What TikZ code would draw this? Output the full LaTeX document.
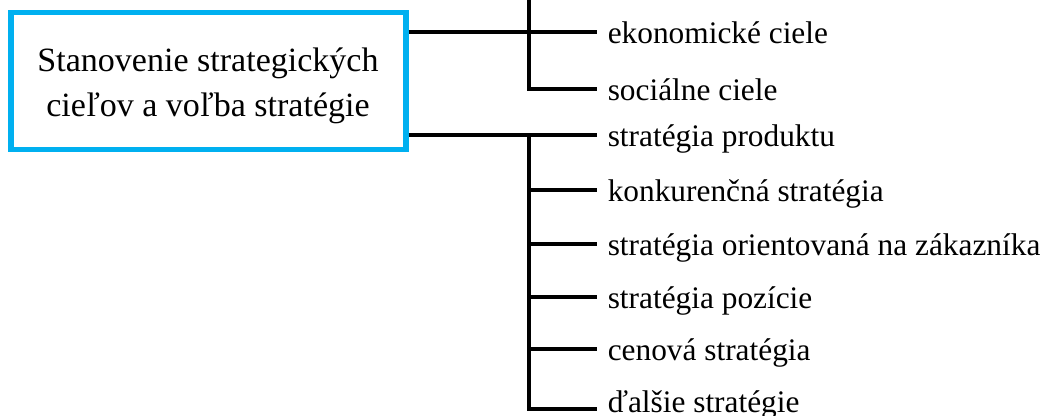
\documentclass[tikz,border=0pt]{standalone}
\usepackage{fontspec}
\setmainfont{Liberation Serif}
\usetikzlibrary{positioning,calc}
\definecolor{boxblue}{RGB}{0,176,240}

\begin{document}
\begin{tikzpicture}[line width=2.8pt,
  lab/.style={inner sep=0pt,yshift=-0.29cm,font=\fontsize{22.3}{26}\selectfont},
  goaltxt/.style={inner sep=0pt,anchor=base,font=\fontsize{24.2}{32}\selectfont}]
\useasboundingbox (0,0) rectangle (26.3,10.4);
\node[draw=boxblue,line width=3.6pt,minimum width=9.875cm,minimum height=3.425cm] (goal) at (5.2125,8.375) {};
\node[goaltxt] (goal1) at (5.2,8.6) {Stanovenie strategických};
\node[goaltxt] (goal2) at (5.2,7.475) {cieľov a voľba stratégie};
% goals branch
\coordinate (top) at (13.225,10.4);
\coordinate (g1) at (14.925,9.6); \coordinate (g2) at (14.925,8.175);
\node[lab,base right=0.22cm of g1] (ekon) {ekonomické ciele};
\node[lab,base right=0.22cm of g2] (soc) {sociálne ciele};
\draw (goal.east |- g1) -- (g1);
\draw (top) |- (g2);
% strategies branch
\coordinate (s1) at (14.925,7.025);
\coordinate (s6) at (14.925,0.175);
\draw (goal.east |- s1) -- (s1);
\draw (top |- s1) |- (s6);
\foreach \y/\name/\dy/\txt in {7.025/s1/0/stratégia produktu,5.65/s2/0/konkurenčná stratégia,
  4.3/s3/0/stratégia orientovaná na zákazníka,2.975/s4/0/stratégia pozície,
  1.675/s5/0/cenová stratégia,0.175/s6/0.19/ďalšie stratégie}{
  \coordinate (\name) at (14.925,\y);
  \node[lab,base right=0.22cm of \name,yshift=\dy cm] (\name lab) {\txt};
  \draw (top |- \name) -- (\name);
}
\end{tikzpicture}
\end{document}
